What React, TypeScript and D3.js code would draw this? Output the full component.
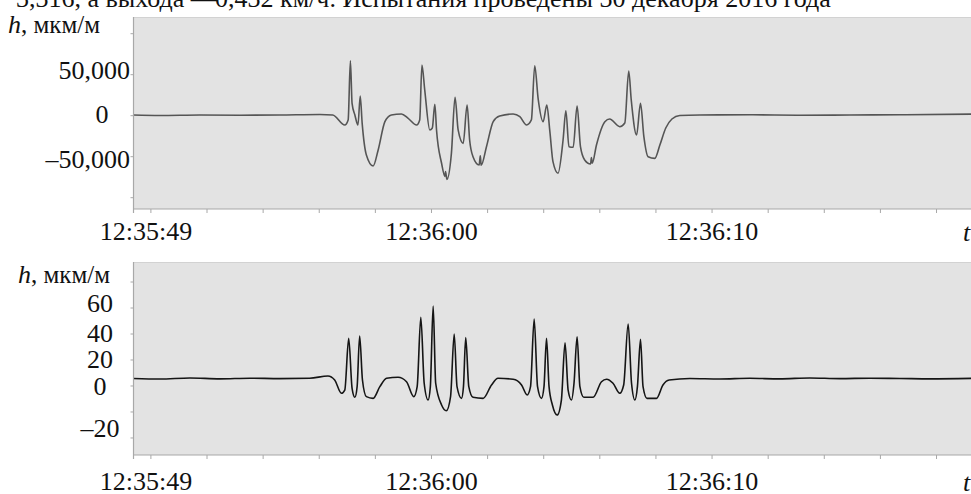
import React from "react";
import * as d3 from "d3";

// time in seconds after 12:35:00
const topTimes = [49.38, 50.32, 51.74, 53.17, 54.59, 56.02, 56.48, 56.91, 57.03, 57.11, 57.17, 57.27, 57.38, 57.46, 57.53, 57.68, 57.92, 58.10, 58.34, 58.57, 58.93, 59.17, 59.47, 59.58, 59.66, 59.76, 59.94, 60.03, 60.12, 60.18, 60.36, 60.48, 60.50, 60.55, 60.71, 60.84, 60.95, 61.13, 61.27, 61.36, 61.48, 61.70, 61.74, 61.77, 61.96, 62.20, 62.43, 62.91, 63.15, 63.39, 63.56, 63.68, 63.80, 63.98, 64.11, 64.22, 64.33, 64.51, 64.69, 64.79, 64.90, 65.05, 65.19, 65.31, 65.46, 65.67, 65.70, 65.73, 65.88, 66.18, 66.35, 66.71, 66.89, 67.03, 67.12, 67.31, 67.45, 67.57, 67.72, 67.96, 68.14, 68.35, 68.57, 68.85, 69.56, 71.35, 73.13, 74.91, 76.69, 79.3];
const topValues = [850, 250, 850, 600, 850, 1450, 850, -11300, -5200, 67000, 15100, 850, -11300, 24000, -9300, -47900, -61300, -41800, -7300, 850, 2100, -3200, -11300, -5200, 61800, 31300, -17400, -15000, 13900, -17400, -58000, -74000, -68000, -77600, -45900, 22400, -17400, -33700, 13000, -29600, -50000, -60100, -49000, -60500, -37800, -7300, -400, 2100, -1200, -11300, -5200, 61000, 21200, -7300, 13000, -19500, -56100, -70200, -29600, 6100, -37800, -38500, 11800, -37800, -54000, -58900, -51000, -58000, -35700, -7300, -4000, -13400, -8900, 54500, 19100, -23500, 15100, -25600, -50000, -52000, -35700, -15000, -4000, 250, 850, 1100, 600, 850, 1100, 2000];

const bottomTimes = [49.38, 50.32, 51.39, 52.46, 53.52, 54.59, 55.66, 56.31, 56.55, 56.79, 56.91, 57.05, 57.17, 57.27, 57.35, 57.44, 57.54, 57.68, 57.92, 58.16, 58.40, 58.81, 59.11, 59.37, 59.49, 59.62, 59.74, 59.88, 59.96, 60.06, 60.15, 60.36, 60.53, 60.68, 60.81, 60.91, 61.07, 61.14, 61.22, 61.33, 61.48, 61.84, 62.14, 62.37, 62.91, 63.21, 63.41, 63.53, 63.66, 63.78, 63.92, 64.01, 64.10, 64.19, 64.31, 64.48, 64.63, 64.76, 64.87, 64.99, 65.08, 65.19, 65.29, 65.43, 65.76, 66.06, 66.24, 66.47, 66.71, 66.85, 67.01, 67.13, 67.25, 67.34, 67.45, 67.54, 67.68, 68.02, 68.25, 68.47, 69.21, 70.27, 71.34, 72.41, 73.48, 74.55, 75.62, 76.69, 77.76, 79.3];
const bottomValues = [5.8, 5.4, 6.2, 5.5, 6.0, 5.7, 5.9, 7.7, 4.6, -5.6, -3.1, 36.7, -1.8, -8.7, -0.5, 38.5, 4.6, -8.2, -9.5, -0.5, 5.9, 6.7, 3.3, -8.2, -0.5, 52.8, 2.1, -10.8, -0.5, 61.5, 2.1, -14.6, -19.0, -8.2, 40.0, -0.5, -9.5, -0.5, 37.2, -0.5, -8.7, -9.5, 0.8, 5.9, 5.2, 0.8, -6.9, -0.5, 51.5, -0.5, -9.5, -0.5, 36.7, -0.5, -14.6, -22.3, -10.8, 33.3, -3.1, -10.8, 2.1, 37.9, -0.5, -8.7, -8.7, 3.3, 5.2, 2.1, -5.6, 0.8, 47.7, 2.1, -10.8, -0.5, 35.9, -0.5, -9.5, -9.5, 0.8, 4.6, 5.8, 5.4, 5.9, 5.5, 6.2, 5.7, 6.0, 5.8, 5.5, 5.9];

const xTickSeconds = [50, 52, 54, 56, 58, 60, 62, 64, 66, 68, 70, 72, 74, 76, 78];
const xLabels = [
  { t: 60, text: "12:36:00" },
  { t: 70, text: "12:36:10" },
];
const startLabel = "12:35:49";
const topYTicks = [-100000, -50000, 0, 50000, 100000];
const topYLabels = [50000, 0, -50000];
const bottomYTicks = [-40, -20, 0, 20, 40, 60, 80];
const bottomYLabels = [60, 40, 20, 0, -20];
const headerPart1 = "3,316, а выхода —";
const headerPart2 = "0,432 км/ч. Испытания проведены 30 декабря 2016 года";

const W = 971;
const H = 494;
const LEFT = 133.5;
const RIGHT = 973;
const FONT = "'Liberation Serif', 'Times New Roman', serif";
const AXIS = "#a8a8a8";

const fmt = (v: number) => {
  const s = d3.format(",")(Math.abs(v));
  return v < 0 ? "\u2013" + s : s;
};

export default function App() {
  const x = d3.scaleLinear().domain([49.38, 79.3]).range([LEFT, RIGHT]);
  const yTop = d3.scaleLinear().domain([-113780, 120366]).range([209, 17]);
  const yBot = d3.scaleLinear().domain([-53.1, 95.4]).range([455, 262]);

  const topLine = d3
    .line<number>()
    .x((_, i) => x(topTimes[i]))
    .y((d) => yTop(d))
    .curve(d3.curveMonotoneX);
  const botLine = d3
    .line<number>()
    .x((_, i) => x(bottomTimes[i]))
    .y((d) => yBot(d))
    .curve(d3.curveMonotoneX);

  const topLabelDy: Record<string, number> = { "50000": 4.5, "0": 7.5, "-50000": 11.5 };
  const topLabelX: Record<string, [number, string]> = {
    "50000": [130, "end"],
    "0": [102, "middle"],
    "-50000": [130, "end"],
  };
  const botLabelDy: Record<string, number> = { "60": 4, "40": 8, "20": 8, "0": 9, "-20": 25 };

  const panel = (
    y0: number,
    y1: number,
    yScale: d3.ScaleLinear<number, number>,
    yTicks: number[],
    path: string,
    color: string,
    labelBase: number,
    hX: number,
    hY: number
  ) => (
    <g>
      <rect x={LEFT} y={y0} width={RIGHT - LEFT} height={y1 - y0} fill="#e3e3e3" />
      <line x1={LEFT} x2={RIGHT} y1={y0 + 0.5} y2={y0 + 0.5} stroke="#d2d2d2" />
      <path d={path} fill="none" stroke={color} strokeWidth={1.6} strokeLinejoin="round" />
      <line x1={LEFT} x2={LEFT} y1={y0} y2={y1 + 4} stroke={AXIS} strokeWidth={1.2} />
      <line x1={LEFT} x2={RIGHT} y1={y1} y2={y1} stroke={AXIS} strokeWidth={1.2} />
      {yTicks.map((v) => (
        <line key={v} x1={LEFT - 3} x2={LEFT} y1={yScale(v)} y2={yScale(v)} stroke={AXIS} strokeWidth={1} />
      ))}
      {xTickSeconds.map((t) => (
        <line key={t} x1={x(t)} x2={x(t)} y1={y1} y2={y1 + 4} stroke={AXIS} strokeWidth={1} />
      ))}
      {xLabels.map((l) => (
        <text key={l.text} x={x(l.t)} y={labelBase} textAnchor="middle" fontSize={26} fontFamily={FONT} fill="#111">
          {l.text}
        </text>
      ))}
      <text x={x(49.38) + 12.5} y={labelBase} textAnchor="middle" fontSize={26} fontFamily={FONT} fill="#111">
        {startLabel}
      </text>
      <text x={963} y={labelBase + 1} fontSize={26} fontFamily={FONT} fontStyle="italic" fill="#111">
        t
      </text>
      <text x={hX} y={hY} fontFamily={FONT} fill="#111">
        <tspan fontStyle="italic" fontSize={26}>h</tspan>
        <tspan fontSize={25}>, мкм/м</tspan>
      </text>
    </g>
  );

  return (
    <div style={{ position: "absolute", left: 0, top: 0, width: W, height: H, background: "#fff" }}>
      <svg width={W} height={H} viewBox={`0 0 ${W} ${H}`} style={{ display: "block" }}>
        <rect width={W} height={H} fill="#fff" />
        <text y={7} fontSize={26} fontFamily={FONT} fill="#111">
          <tspan x={16}>{headerPart1}</tspan>
          <tspan x={215}>{headerPart2}</tspan>
        </text>
        {panel(17, 209, yTop, topYTicks, topLine(topValues) || "", "#555", 240, 8, 33)}
        {panel(262, 455, yBot, bottomYTicks, botLine(bottomValues) || "", "#151515", 490, 18, 283)}
        {topYLabels.map((v) => (
          <text
            key={v}
            x={topLabelX[String(v)][0]}
            y={yTop(v) + topLabelDy[String(v)]}
            textAnchor={topLabelX[String(v)][1] as any}
            fontSize={26}
            fontFamily={FONT}
            fill="#111"
          >
            {fmt(v)}
          </text>
        ))}
        {bottomYLabels.map((v) => (
          <text
            key={v}
            x={100}
            y={yBot(v) + botLabelDy[String(v)]}
            textAnchor="middle"
            fontSize={26}
            fontFamily={FONT}
            fill="#111"
          >
            {v < 0 ? "\u2013" + Math.abs(v) : String(v)}
          </text>
        ))}
      </svg>
    </div>
  );
}
